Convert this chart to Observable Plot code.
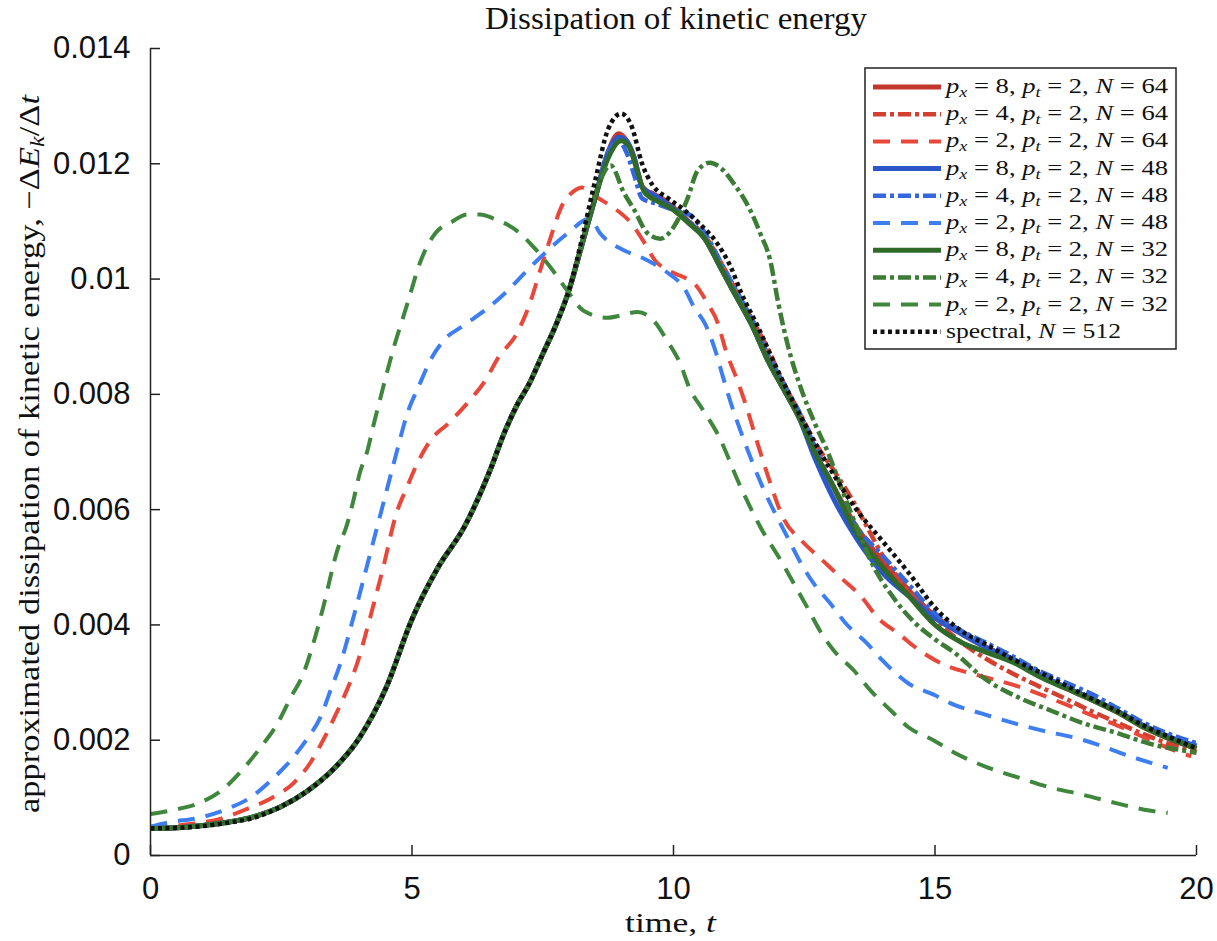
<!DOCTYPE html>
<html><head><meta charset="utf-8">
<script src="https://cdn.jsdelivr.net/npm/d3@7"></script>
<script src="https://cdn.jsdelivr.net/npm/@observablehq/plot@0.6"></script>
<style>body{margin:0;background:#fff}#wrap{position:relative;width:1217px;height:941px}</style>
</head><body><div id="wrap"></div>
<script>
// ---- data (time t, dissipation -dEk/dt) ----
const t_p8_N64 = [0,0.5,1,1.5,2,2.5,3,3.5,4,4.5,5,5.5,6,6.5,6.75,7,7.25,7.5,7.75,8,8.25,8.5,8.75,8.95,9.1,9.25,9.4,9.7,10,10.3,10.6,10.9,11.2,11.5,11.8,12.1,12.4,12.7,13,13.5,14,14.5,15,15.5,16,16.5,17,17.5,18,18.5,19,19.5,20];
const e_p8_N64 = [0.00047,0.00048,0.00052,0.00058,0.00068,0.00085,0.00112,0.0015,0.00205,0.0029,0.0041,0.0050,0.0057,0.0067,0.0073,0.0078,0.0082,0.0087,0.0092,0.0098,0.0106,0.0114,0.0122,0.01252,0.0124,0.0121,0.0116,0.01143,0.01124,0.01099,0.0107,0.0102,0.0097,0.0092,0.0086,0.0081,0.0076,0.0070,0.0065,0.0057,0.0051,0.0046,0.00415,0.00385,0.0036,0.0034,0.00312,0.0029,0.0027,0.00248,0.00222,0.00202,0.00186];

const t_p4_N64 = [0,0.5,1,1.5,2,2.5,3,3.5,4,4.5,5,5.5,6,6.5,6.75,7,7.25,7.5,7.75,8,8.25,8.5,8.75,8.95,9.1,9.25,9.4,9.7,10,10.3,10.6,10.9,11.2,11.5,11.8,12.1,12.4,12.75,13.05,13.4,13.7,14,14.5,15,15.5,16,16.5,17,17.5,18,18.5,19,19.5,20];
const e_p4_N64 = [0.00047,0.00048,0.00052,0.00058,0.00068,0.00085,0.00112,0.0015,0.00205,0.0029,0.0041,0.0050,0.0057,0.0067,0.0073,0.0078,0.0082,0.0087,0.0092,0.0098,0.0106,0.0114,0.0122,0.0125,0.0124,0.0121,0.0116,0.01145,0.01126,0.0110,0.01075,0.0103,0.0098,0.0093,0.0088,0.0082,0.0077,0.0071,0.0067,0.0062,0.0057,0.0052,0.0046,0.0041,0.0037,0.0034,0.00315,0.00293,0.00272,0.0025,0.0023,0.0021,0.00193,0.0018];

const t_p2_N64 = [0,0.2,0.8,1.35,1.85,2.3,2.75,3.05,3.3,3.55,3.75,3.95,4.2,4.45,4.7,4.9,5.1,5.35,5.7,6.05,6.4,6.65,7,7.25,7.45,7.65,7.85,8.1,8.25,8.55,8.85,9.2,9.45,9.65,9.9,10.2,10.4,10.65,10.85,11,11.2,11.4,11.55,11.8,12.1,12.45,12.85,13.2,13.6,13.9,14.3,14.7,15.2,15.6,16.1,16.6,17,17.5,18,18.5,19,19.5,19.9];
const e_p2_N64 = [0.00047,0.00049,0.00055,0.00064,0.00081,0.00099,0.00127,0.0016,0.002,0.00246,0.00286,0.00333,0.00413,0.005,0.00593,0.00638,0.0068,0.0072,0.0075,0.00784,0.00824,0.00864,0.00905,0.00957,0.01015,0.01072,0.01124,0.01153,0.01159,0.01141,0.01124,0.01096,0.01062,0.01032,0.01015,0.01003,0.00992,0.00958,0.00923,0.00876,0.00829,0.00777,0.00732,0.0066,0.00585,0.00546,0.00512,0.00482,0.00448,0.00413,0.00385,0.00356,0.0033,0.00318,0.00306,0.00293,0.0028,0.00262,0.00243,0.00225,0.00205,0.00185,0.00172];

const t_p8_N48 = [0,0.5,1,1.5,2,2.5,3,3.5,4,4.5,5,5.5,6,6.5,6.75,7,7.25,7.5,7.75,8,8.25,8.5,8.75,8.95,9.1,9.25,9.4,9.7,10,10.3,10.6,10.9,11.2,11.5,11.8,12.1,12.4,12.7,13,13.5,14,14.5,15,15.5,16,16.5,17,17.5,18,18.5,19,19.5,20];
const e_p8_N48 = [0.00047,0.00048,0.00052,0.00058,0.00068,0.00085,0.00112,0.0015,0.00205,0.0029,0.0041,0.0050,0.0057,0.0067,0.0073,0.0078,0.0082,0.0087,0.0092,0.0098,0.0106,0.0114,0.0122,0.01246,0.0124,0.0121,0.0116,0.01142,0.01122,0.01098,0.0107,0.0102,0.0097,0.0092,0.0086,0.0081,0.0076,0.0069,0.0063,0.0055,0.0049,0.0045,0.00412,0.00385,0.0036,0.0034,0.00314,0.00292,0.00272,0.0025,0.00225,0.00205,0.0019];

const t_p4_N48 = [0,0.5,1,1.5,2,2.5,3,3.5,4,4.5,5,5.5,6,6.5,6.75,7,7.25,7.5,7.75,8,8.25,8.5,8.75,8.95,9.1,9.25,9.4,9.7,10,10.3,10.6,10.9,11.2,11.5,11.8,12.1,12.4,12.7,13,13.5,14,14.5,15,15.5,16,16.5,17,17.5,18,18.5,19,19.5,20];
const e_p4_N48 = [0.00047,0.00048,0.00052,0.00058,0.00068,0.00085,0.00112,0.0015,0.00205,0.0029,0.0041,0.0050,0.0057,0.0067,0.0073,0.0078,0.0082,0.0087,0.0092,0.0098,0.0106,0.0114,0.0122,0.0124,0.0122,0.0118,0.0114,0.0113,0.0112,0.01112,0.0108,0.0103,0.0098,0.0093,0.0087,0.0082,0.0077,0.0071,0.0065,0.0057,0.0052,0.0047,0.0042,0.0039,0.00368,0.00345,0.0032,0.003,0.0028,0.00255,0.0023,0.0021,0.00195];

const t_p2_N48 = [0,0.32,0.96,1.47,1.9,2.3,2.68,3.0,3.25,3.44,3.63,3.88,4.15,4.4,4.65,4.93,5.12,5.35,5.6,5.98,6.44,6.83,7.2,7.6,7.97,8.4,8.6,9.05,9.4,9.9,10.2,10.4,10.6,10.8,10.95,11.1,11.3,11.7,12.18,12.43,12.68,13.0,13.3,13.7,14.0,14.5,15.0,15.3,15.9,16.9,17.85,18.8,19.3,19.45];
const e_p2_N48 = [0.0005,0.00057,0.00066,0.00081,0.001,0.0013,0.00165,0.00203,0.0024,0.00286,0.00333,0.00413,0.00506,0.00593,0.0068,0.00772,0.00812,0.00859,0.00893,0.00919,0.00949,0.0098,0.01015,0.0105,0.01079,0.01105,0.01079,0.0105,0.01037,0.0101,0.00985,0.0095,0.00923,0.00876,0.00829,0.00784,0.00732,0.0064,0.00552,0.00508,0.00472,0.00437,0.00402,0.00368,0.00338,0.00298,0.00278,0.00264,0.00246,0.0022,0.002,0.0017,0.00156,0.00152];

const t_p8_N32 = [0,0.5,1,1.5,2,2.5,3,3.5,4,4.5,5,5.5,6,6.5,6.75,7,7.25,7.5,7.75,8,8.25,8.5,8.75,9.0,9.15,9.3,9.45,9.7,10,10.3,10.6,10.9,11.2,11.5,11.8,12.1,12.4,12.7,13,13.5,14,14.5,15,15.5,16,16.5,17,17.5,18,18.5,19,19.5,20];
const e_p8_N32 = [0.00047,0.00048,0.00052,0.00058,0.00068,0.00085,0.00112,0.0015,0.00205,0.0029,0.0041,0.0050,0.0057,0.0067,0.0073,0.0078,0.0082,0.0087,0.0092,0.0098,0.0106,0.0114,0.0121,0.0124,0.0123,0.0119,0.0115,0.01135,0.0112,0.01096,0.0107,0.0102,0.0097,0.0092,0.0086,0.0081,0.0076,0.0070,0.0065,0.0056,0.0050,0.0045,0.0040,0.0037,0.00352,0.00335,0.0031,0.0029,0.0027,0.00248,0.00222,0.00202,0.00186];

const t_p4_N32 = [0,0.5,1,1.5,2,2.5,3,3.5,4,4.5,5,5.5,6,6.5,6.75,7,7.25,7.5,7.75,8,8.3,8.55,8.8,9.05,9.25,9.5,9.75,10,10.27,10.46,10.7,10.9,11.15,11.47,11.66,11.85,12.0,12.2,12.4,12.7,12.95,13.2,13.5,13.8,14.2,14.6,15.0,15.4,15.9,16.6,17.2,17.85,18.5,19.1,19.75,20];
const e_p4_N32 = [0.00047,0.00048,0.00052,0.00058,0.00068,0.00085,0.00112,0.0015,0.00205,0.0029,0.0041,0.0050,0.0057,0.0067,0.0073,0.0078,0.0082,0.0087,0.0092,0.0098,0.0108,0.0116,0.01197,0.0115,0.0112,0.0108,0.0107,0.0109,0.0114,0.01188,0.01202,0.01193,0.01166,0.01119,0.01079,0.01032,0.0096,0.0088,0.0082,0.0075,0.0070,0.0064,0.0057,0.00506,0.00448,0.00405,0.00375,0.0035,0.0031,0.00274,0.00252,0.00229,0.00212,0.00194,0.00182,0.00178];

const t_p2_N32 = [0,0.38,0.96,1.4,1.78,2.1,2.43,2.68,2.93,3.12,3.3,3.57,3.76,3.88,4.0,4.15,4.27,4.4,4.53,4.65,4.8,4.93,5.16,5.45,5.74,6.06,6.3,6.56,7.0,7.33,7.65,7.97,8.28,8.74,9.0,9.31,9.62,9.88,10.13,10.3,10.57,10.84,11.28,11.66,12.05,12.3,12.56,12.8,13.06,13.45,13.77,14.15,14.5,14.97,15.4,16.0,16.6,17.2,17.8,18.5,19.1,19.45];
const e_p2_N32 = [0.00072,0.00078,0.00092,0.00116,0.00151,0.00187,0.00229,0.00274,0.00317,0.0037,0.0043,0.00529,0.00575,0.00616,0.00663,0.00703,0.00749,0.00795,0.00841,0.00881,0.00925,0.00963,0.0103,0.0108,0.01098,0.01112,0.01112,0.01105,0.01084,0.01055,0.0102,0.0098,0.00945,0.00933,0.00937,0.00943,0.00928,0.00893,0.00853,0.00812,0.00772,0.00732,0.0064,0.0057,0.00512,0.00472,0.0043,0.0039,0.00356,0.00321,0.00286,0.00252,0.00222,0.002,0.00177,0.00153,0.00135,0.00118,0.00106,0.0009,0.00078,0.00074];

const t_spectral = [0,0.5,1,1.5,2,2.5,3,3.5,4,4.5,5,5.5,6,6.5,6.75,7,7.25,7.5,7.75,8,8.25,8.5,8.75,9.0,9.2,9.4,9.6,9.9,10.2,10.5,10.85,11.1,11.3,11.6,12,12.5,13,13.5,14,14.5,15,15.5,16,16.5,17,17.5,18,18.5,19,19.5,20];
const e_spectral = [0.00047,0.00048,0.00051,0.00057,0.00066,0.00085,0.00112,0.0015,0.00205,0.0029,0.0041,0.0050,0.0057,0.0067,0.0073,0.0078,0.0082,0.0087,0.0092,0.0098,0.0107,0.0117,0.0126,0.01287,0.01265,0.0120,0.01163,0.0114,0.0112,0.01096,0.0106,0.0102,0.00975,0.0092,0.0084,0.0075,0.0067,0.0060,0.00545,0.0049,0.0043,0.0039,0.00365,0.0034,0.00318,0.00295,0.00272,0.0025,0.00225,0.00205,0.00186];

const px = [8,4,2,8,4,2,8,4,2];
const pt = [2,2,2,2,2,2,2,2,2];
const Ngrid = [64,64,64,48,48,48,32,32,32];
const spectralN = 512;
const xTicks = [0,5,10,15,20];
const xTickLabels = ["0","5","10","15","20"];
const yTicks = [0,0.002,0.004,0.006,0.008,0.01,0.012,0.014];
const yTickLabels = ["0","0.002","0.004","0.006","0.008","0.01","0.012","0.014"];
const title = "Dissipation of kinetic energy";

// ---- styles ----
const DASHED = "17,11", DASHDOT = "13,4,4,4", DOTTED = "4,3.5";
const series = [
  {t:t_p8_N64, e:e_p8_N64, color:"#c3362b", w:5,   dash:null},
  {t:t_p4_N64, e:e_p4_N64, color:"#d4402f", w:4.5, dash:DASHDOT},
  {t:t_p2_N64, e:e_p2_N64, color:"#e8473a", w:4,   dash:DASHED},
  {t:t_p8_N48, e:e_p8_N48, color:"#2b57c8", w:5,   dash:null},
  {t:t_p4_N48, e:e_p4_N48, color:"#3467de", w:4.5, dash:DASHDOT},
  {t:t_p2_N48, e:e_p2_N48, color:"#3d7ef2", w:4,   dash:DASHED},
  {t:t_p8_N32, e:e_p8_N32, color:"#2f6a29", w:5,   dash:null},
  {t:t_p4_N32, e:e_p4_N32, color:"#3c7c35", w:4.5, dash:DASHDOT},
  {t:t_p2_N32, e:e_p2_N32, color:"#3f873d", w:4,   dash:DASHED},
  {t:t_spectral, e:e_spectral, color:"#111", w:4.5, dash:DOTTED}
];

const lineMarks = series.map(s => Plot.line(s.t.map((t, j) => ({t, e: s.e[j]})), {
  x: "t", y: "e", stroke: s.color, strokeWidth: s.w, strokeDasharray: s.dash,
  curve: "monotone-x", strokeLinecap: "butt"
}));

const chart = Plot.plot({
  width: 1217, height: 941,
  marginTop: 48, marginRight: 21, marginBottom: 86, marginLeft: 150,
  x: {domain: [0, 20]},
  y: {domain: [0, 0.014]},
  style: {fontFamily: "'Liberation Sans', Arial, sans-serif", fontSize: "31px", color: "#111", background: "#fff"},
  marks: [
    ...lineMarks,
    Plot.ruleX([0], {stroke: "#222", strokeWidth: 1.5}),
    Plot.ruleY([0], {stroke: "#222", strokeWidth: 1.5}),
    Plot.axisX({ticks: xTicks, tickSize: -10, fill: "none", label: null, stroke: "#222", strokeWidth: 1.5}),
    Plot.axisX({ticks: xTicks, tickSize: 0, tickPadding: 21, label: null, tickFormat: (d, i) => xTickLabels[i]}),
    Plot.axisY({ticks: yTicks, tickSize: -10, fill: "none", label: null, stroke: "#222", strokeWidth: 1.5}),
    Plot.axisY({ticks: yTicks, tickSize: 0, tickPadding: 20, label: null, tickFormat: (d, i) => yTickLabels[i]})
  ]
});
document.getElementById("wrap").appendChild(chart);

// ---- labels ----
const svg = d3.select(chart);
const serif = "'Liberation Serif', 'Times New Roman', serif";
svg.append("text").attr("x", 676).attr("y", 29).attr("text-anchor", "middle")
  .attr("font-family", serif).attr("font-size", 32).attr("fill", "#111")
  .attr("textLength", 382).attr("lengthAdjust", "spacingAndGlyphs").text(title);

const xl = svg.append("text").attr("x", 625).attr("y", 932).attr("text-anchor", "start")
  .attr("font-family", serif).attr("font-size", 28).attr("fill", "#111")
  .attr("textLength", 91).attr("lengthAdjust", "spacingAndGlyphs");
xl.append("tspan").text("time, ");
xl.append("tspan").attr("font-style", "italic").text("t");

const yl = svg.append("text").attr("transform", "translate(39,813) rotate(-90)").attr("text-anchor", "start")
  .attr("font-family", serif).attr("font-size", 30).attr("fill", "#111")
  .attr("textLength", 718).attr("lengthAdjust", "spacingAndGlyphs");
yl.append("tspan").text("approximated dissipation of kinetic energy, \u2212\u0394");
yl.append("tspan").attr("font-style", "italic").text("E");
yl.append("tspan").attr("font-style", "italic").attr("font-size", 21).attr("dy", 5).text("k");
yl.append("tspan").attr("dy", -5).text("/\u0394");
yl.append("tspan").attr("font-style", "italic").text("t");

// ---- legend ----
const lg = svg.append("g");
lg.append("rect").attr("x", 865).attr("y", 68).attr("width", 311).attr("height", 281)
  .attr("fill", "#fff").attr("stroke", "#222").attr("stroke-width", 1.5);
series.forEach((s, i) => {
  const yy = 87 + i * 27.2;
  lg.append("line").attr("x1", 873).attr("x2", 941).attr("y1", yy).attr("y2", yy)
    .attr("stroke", s.color).attr("stroke-width", s.w).attr("stroke-dasharray", s.dash);
  const tx = lg.append("text").attr("x", 946).attr("y", yy + 6).attr("text-anchor", "start")
    .attr("font-family", serif).attr("font-size", 22).attr("fill", "#111")
    .attr("textLength", i < 9 ? 222 : 175).attr("lengthAdjust", "spacingAndGlyphs");
  if (i < 9) {
    tx.append("tspan").attr("font-style", "italic").text("p");
    tx.append("tspan").attr("font-style", "italic").attr("font-size", 15).attr("dy", 4).text("x");
    tx.append("tspan").attr("dy", -4).text(` = ${px[i]}, `);
    tx.append("tspan").attr("font-style", "italic").text("p");
    tx.append("tspan").attr("font-style", "italic").attr("font-size", 15).attr("dy", 4).text("t");
    tx.append("tspan").attr("dy", -4).text(` = ${pt[i]}, `);
    tx.append("tspan").attr("font-style", "italic").text("N");
    tx.append("tspan").text(` = ${Ngrid[i]}`);
  } else {
    tx.append("tspan").text("spectral, ");
    tx.append("tspan").attr("font-style", "italic").text("N");
    tx.append("tspan").text(` = ${spectralN}`);
  }
});
</script></body></html>
